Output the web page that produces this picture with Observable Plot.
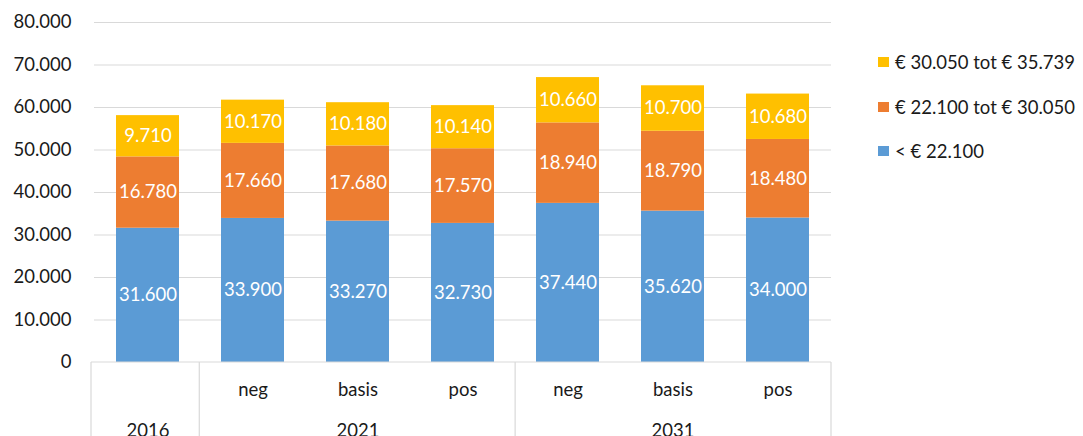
<!DOCTYPE html>
<html><head><meta charset="utf-8">
<script src="https://cdn.jsdelivr.net/npm/d3@7"></script>
<script src="https://cdn.jsdelivr.net/npm/@observablehq/plot@0.6"></script>
<style>
body{margin:0;background:#fff;font-family:Lato,"Open Sans",sans-serif;}
#wrap{position:relative;width:1083px;height:436px;overflow:hidden;background:#fff}
#legend{position:absolute;left:878px;top:0;font-size:18.5px;color:#1a1a1a}
.item{position:absolute;left:0;white-space:nowrap;display:flex;align-items:center;height:20px}
.sw{width:11px;height:10px;margin-right:6px}
</style></head><body><div id="wrap"><div id="legend"></div></div>
<script>
// ---- data ----
const years = ["2016","2021","2021","2021","2031","2031","2031"];
const scenarios = ["","neg","basis","pos","neg","basis","pos"];
const seriesNames = ["< € 22.100","€ 22.100 tot € 30.050","€ 30.050 tot € 35.739"];
const seriesColors = ["#5B9BD5","#ED7D31","#FFC000"];
const lowIncome = [31600,33900,33270,32730,37440,35620,34000];
const midIncome = [16780,17660,17680,17570,18940,18790,18480];
const highIncome = [9710,10170,10180,10140,10660,10700,10680];
const yTicks = [0,10000,20000,30000,40000,50000,60000,70000,80000];

const nl = d3.formatLocale({decimal:",",thousands:".",grouping:[3],currency:["€ ",""]});
const fmt = nl.format(",");
const FS = 18.5;

const keys = years.map((y,i)=>y+" "+scenarios[i]);
const seriesValues = [lowIncome, midIncome, highIncome];
const data = [];
keys.forEach((k,i)=>seriesValues.forEach((vals,s)=>data.push({key:k, series:seriesNames[s], value:vals[i]})));
const cats = keys.map((k,i)=>({key:k, scenario:scenarios[i]}));
// year groups, labelled under the middle category of each group
const groups = [];
years.forEach((y,i)=>{ if(!groups.length || groups[groups.length-1].year!==y) groups.push({year:y, first:i, last:i}); else groups[groups.length-1].last=i; });
groups.forEach(g=>g.key = keys[Math.floor((g.first+g.last)/2)]);

const plot = Plot.plot({
  width:1083, height:436,
  marginLeft:94, marginRight:252, marginTop:22, marginBottom:74,
  style:{fontFamily:"Lato, 'Open Sans', sans-serif", fontSize:FS+"px", color:"#1a1a1a", background:"transparent", overflow:"visible"},
  x:{domain:keys, paddingInner:0.4, paddingOuter:0.2, axis:null},
  y:{domain:[0,80000], axis:null},
  color:{domain:seriesNames, range:seriesColors},
  marks:[
    Plot.ruleY(yTicks.filter(d=>d>0), {y:d=>d, stroke:"#d9d9d9", strokeWidth:1}),
    Plot.text(yTicks, {y:d=>d, text:d=>fmt(d), frameAnchor:"left", textAnchor:"end", dx:-23, fill:"#1a1a1a", fontSize:FS}),
    Plot.barY(data, {x:"key", y:"value", fill:"series"}),
    Plot.text(data, Plot.stackY({x:"key", y:"value", text:d=>fmt(d.value), fill:"white", fontSize:FS})),
    Plot.text(cats, {x:"key", text:"scenario", frameAnchor:"bottom", dy:33, fill:"#1a1a1a", fontSize:FS}),
    Plot.text(groups, {x:"key", text:"year", frameAnchor:"bottom", dy:74, fill:"#1a1a1a", fontSize:FS})
  ]
});
document.getElementById("wrap").appendChild(plot);

// grouped category axis box
const xs = plot.scale("x"), ys = plot.scale("y");
const edges = d3.scaleBand().domain(keys).range(xs.range);
const y0 = ys.apply(0);
const svg = d3.select(plot);
const g = svg.append("g").attr("stroke","#d9d9d9").attr("stroke-width",1.2);
const left = edges(keys[0]) - 3, right = edges(keys[keys.length-1]) + edges.step();
g.append("line").attr("x1",left).attr("x2",right).attr("y1",y0).attr("y2",y0);
const bx = groups.map(gr=>gr.first===0 ? left : edges(keys[gr.first])).concat([right]);
bx.forEach(x=>g.append("line").attr("x1",x).attr("x2",x).attr("y1",y0).attr("y2",436));

// legend
const leg = document.getElementById("legend");
const order = [2,1,0];
order.forEach((s,j)=>{
  const it = document.createElement("div");
  it.className="item";
  it.style.top = (52 + j*44.5) + "px";
  it.innerHTML = `<span class="sw" style="background:${seriesColors[s]}"></span><span>${seriesNames[s].replace(/</g,"&lt;")}</span>`;
  leg.appendChild(it);
});
</script>
</body></html>
